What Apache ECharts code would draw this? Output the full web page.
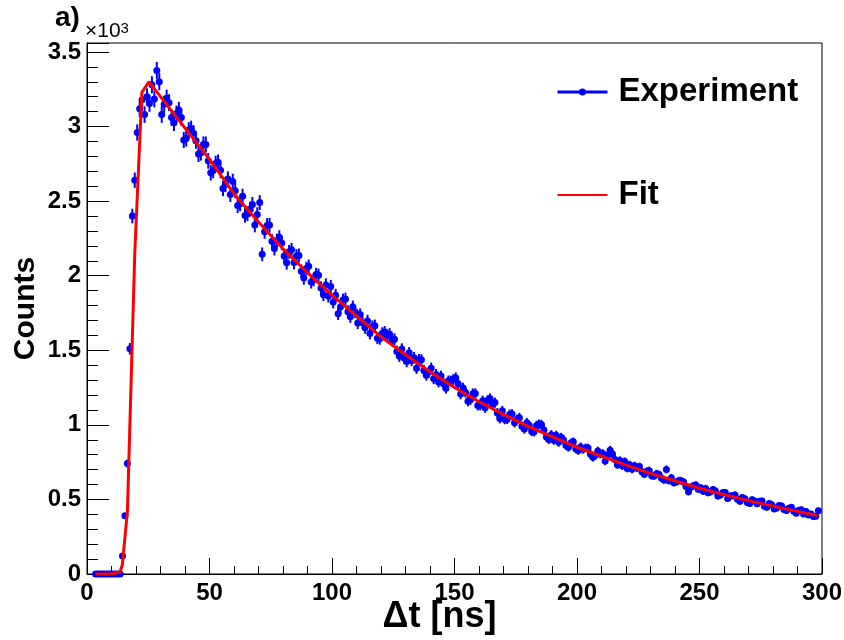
<!DOCTYPE html>
<html style="height: 100%">
<head>
    <meta charset="utf-8">
    <title>Counts vs delta t</title>
    <script src="https://cdn.jsdelivr.net/npm/echarts@6/dist/echarts.min.js"></script>
</head>
<body style="height: 100%; margin: 0; background: #fff">
    <div id="container" style="width: 844px; height: 640px"></div>
    <script type="text/javascript">
        // histogram bins (ns): centre of first bin and bin width
        var binStart = 3.5;
        var binWidth = 1.0;

        // measured counts per bin (3.5 ns ... 298.5 ns)
        var expCounts = [
            0, 0, 0, 0, 0, 0, 0, 0, 0, 0,
            0, 120, 390, 740, 1510, 2400, 2640, 2960, 3120, 3180,
            3080, 3200, 3155, 3280, 3185, 3375, 3300, 3080, 3150, 3190,
            3160, 3060, 3025, 3085, 3110, 3060, 2910, 2920, 2975, 2985,
            2955, 2905, 2815, 2825, 2880, 2880, 2770, 2690, 2705, 2752,
            2760, 2707, 2584, 2611, 2648, 2545, 2632, 2570, 2470, 2482,
            2533, 2404, 2415, 2446, 2478, 2339, 2410, 2490, 2143, 2295,
            2337, 2339, 2231, 2183, 2235, 2257, 2219, 2132, 2086, 2160,
            2174, 2088, 2132, 2136, 2030, 1984, 2048, 2063, 1958, 1973,
            2008, 2003, 1918, 1873, 1938, 1863, 1928, 1823, 1869, 1745,
            1791, 1837, 1843, 1759, 1725, 1791, 1757, 1683, 1739, 1685,
            1651, 1697, 1613, 1659, 1665, 1581, 1577, 1614, 1622, 1600,
            1608, 1566, 1574, 1492, 1460, 1508, 1446, 1424, 1483, 1431,
            1450, 1379, 1437, 1436, 1365, 1333, 1352, 1380, 1309, 1338,
            1287, 1327, 1276, 1245, 1295, 1294, 1304, 1315, 1276, 1206,
            1247, 1217, 1158, 1168, 1209, 1210, 1130, 1131, 1162, 1114,
            1165, 1176, 1138, 1149, 1080, 1042, 1094, 1036, 1038, 1070,
            1072, 1014, 1036, 1048, 990, 972, 1014, 997, 955, 953,
            996, 1004, 1002, 965, 918, 901, 934, 897, 930, 883,
            916, 899, 862, 850, 878, 886, 839, 828, 852, 836,
            845, 844, 803, 782, 796, 825, 804, 808, 757, 796,
            830, 804, 768, 732, 761, 725, 754, 708, 732, 702,
            726, 711, 720, 685, 669, 689, 693, 658, 657, 672,
            667, 642, 631, 701, 626, 646, 611, 616, 626, 626,
            616, 586, 551, 581, 592, 597, 568, 578, 554, 574,
            545, 551, 566, 557, 523, 529, 545, 546, 507, 523,
            524, 530, 501, 487, 513, 504, 480, 472, 498, 489,
            471, 487, 489, 455, 447, 473, 465, 436, 443, 460,
            456, 433, 425, 441, 448, 420, 407, 428, 430, 402,
            419, 396, 403, 385, 387, 424
        ];

        // fit curve sample points
        var fitX = [3.5, 10.5, 13.5, 14.4, 15.4, 16.5, 19.5, 22.4, 25.3,
            30, 40, 50, 60, 70, 80, 90, 100, 110, 120, 130, 140, 150, 160,
            170, 180, 190, 200, 210, 220, 230, 240, 250, 260, 270, 280, 290, 298];
        var fitY = [0, 2, 15, 60, 230, 420, 2150, 3230, 3300,
            3200, 2990, 2780, 2550, 2360, 2180, 2020, 1870, 1730, 1590, 1470, 1356, 1250, 1155,
            1070, 990, 920, 850, 790, 730, 675, 625, 575, 532, 492, 455, 420, 392];

        var expData = expCounts.map(function (c, i) {
            return [binStart + i * binWidth, c, Math.sqrt(c)];
        });
        var fitData = fitX.map(function (x, i) { return [x, fitY[i]]; });

        var BLUE = '#0000ff';
        var RED = '#ff0000';
        var FONT = 'Liberation Sans';

        function renderErr(params, api) {
            var x = api.value(0), y = api.value(1), e = api.value(2);
            var top = api.coord([x, y + e]);
            var bot = api.coord([x, y - e]);
            var l = api.coord([x - binWidth / 2, y]);
            var r = api.coord([x + binWidth / 2, y]);
            var st = {stroke: BLUE, lineWidth: 2};
            return {
                type: 'group',
                children: [
                    {type: 'line', shape: {x1: top[0], y1: top[1], x2: bot[0], y2: bot[1]}, style: st},
                    {type: 'line', shape: {x1: l[0], y1: l[1], x2: r[0], y2: r[1]}, style: st}
                ]
            };
        }

        var myChart = echarts.init(document.getElementById('container'));
        var option = {
            animation: false,
            backgroundColor: '#fff',
            grid: {
                left: 87, right: 22, top: 43, bottom: 66,
                containLabel: false, outerBoundsMode: 'none',
                show: true, borderColor: '#000', borderWidth: 1
            },
            legend: {
                orient: 'vertical',
                left: 556, top: 75, padding: 0,
                itemWidth: 50, itemHeight: 9, itemGap: 69,
                textStyle: {
                    fontFamily: FONT, fontWeight: 'bold', fontSize: 33,
                    color: '#000', lineHeight: 34, padding: [0, 0, 0, 6]
                },
                data: [
                    {name: 'Experiment', lineStyle: {width: 3, color: BLUE, opacity: 1},
                     itemStyle: {color: BLUE}},
                    {name: 'Fit', itemStyle: {opacity: 0}}
                ]
            },
            xAxis: {
                type: 'value', min: 0, max: 300, interval: 50,
                name: '\u0394t [ns]', nameLocation: 'middle', nameGap: 25, nameMoveOverlap: false,
                nameTextStyle: {fontFamily: FONT, fontWeight: 'bold', fontSize: 36, color: '#000',
                                verticalAlign: 'top', padding: [0, 30, 0, 0]},
                axisLine: {lineStyle: {color: '#000', width: 1}},
                axisTick: {inside: true, length: 16, lineStyle: {color: '#000'}},
                minorTick: {show: true, splitNumber: 5, length: 8, lineStyle: {color: '#000'}},
                splitLine: {show: false},
                axisLabel: {fontFamily: FONT, fontWeight: 'bold', fontSize: 24, color: '#000', margin: 7}
            },
            yAxis: {
                type: 'value', min: 0, max: 3560, interval: 500,
                name: 'Counts', nameLocation: 'middle', nameGap: 46, nameRotate: 90, nameMoveOverlap: false,
                nameTextStyle: {fontFamily: FONT, fontWeight: 'bold', fontSize: 30, color: '#000'},
                axisLine: {lineStyle: {color: '#000', width: 1}},
                axisTick: {inside: true, length: 22, lineStyle: {color: '#000'}},
                minorTick: {show: true, splitNumber: 5, length: 11, lineStyle: {color: '#000'}},
                splitLine: {show: false},
                showMaxLabel: false,
                axisLabel: {
                    fontFamily: FONT, fontWeight: 'bold', fontSize: 24, color: '#000', margin: 6,
                    formatter: function (v) { return v % 500 === 0 ? String(v / 1000) : ''; }
                }
            },
            graphic: [
                {type: 'text', left: 55, top: 4,
                 style: {text: 'a)', fontFamily: FONT, fontWeight: 'bold', fontSize: 28, fill: '#000'}},
                {type: 'text', left: 85, top: 21,
                 style: {
                     text: '{a|\u00d710}{b|3}', fill: '#000',
                     rich: {
                         a: {fontFamily: FONT, fontSize: 21, fill: '#000', verticalAlign: 'bottom'},
                         b: {fontFamily: FONT, fontSize: 15, fill: '#000', verticalAlign: 'top'}
                     }
                 }}
            ],
            series: [
                {
                    name: 'ExperimentErr', type: 'custom', renderItem: renderErr,
                    data: expData, clip: true, z: 2, silent: true,
                    encode: {x: 0, y: 1}
                },
                {
                    name: 'Experiment', type: 'line', data: expData,
                    symbol: 'circle', symbolSize: 7, showAllSymbol: true,
                    itemStyle: {color: BLUE},
                    lineStyle: {width: 0, color: BLUE},
                    z: 3, clip: true
                },
                {
                    name: 'Fit', type: 'line', data: fitData,
                    showSymbol: false, symbol: 'none',
                    lineStyle: {width: 3, color: RED},
                    itemStyle: {color: RED},
                    z: 4, clip: true
                }
            ]
        };
        myChart.setOption(option);
    </script>
</body>
</html>
